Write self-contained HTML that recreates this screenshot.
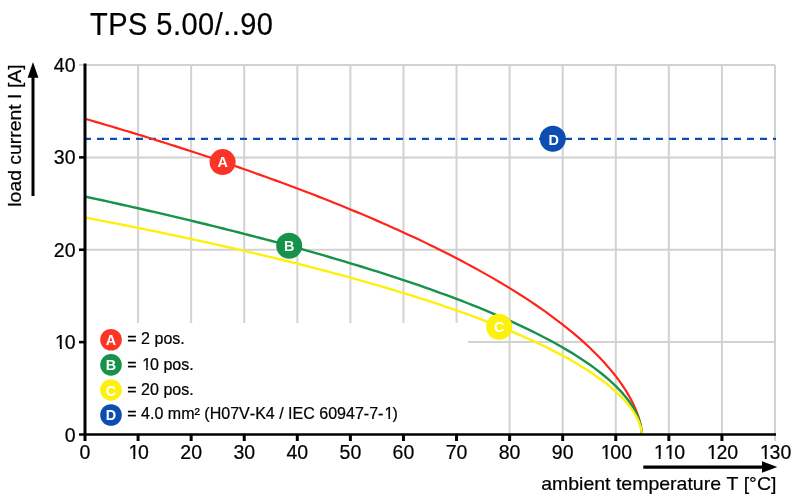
<!DOCTYPE html>
<html><head><meta charset="utf-8"><title>TPS 5.00/..90</title>
<style>
html,body{margin:0;padding:0;background:#fff;}
body{width:800px;height:500px;overflow:hidden;font-family:"Liberation Sans",sans-serif;}
svg{display:block;will-change:transform;}
text{font-kerning:none;}
text:not([fill]){stroke:#000;stroke-width:0.22px;}
</style></head><body>
<svg width="800" height="500" viewBox="0 0 800 500">
<line x1="138.08" y1="65.00" x2="138.08" y2="434.5" stroke="#d2d2d2" stroke-width="2"/>
<line x1="191.15" y1="65.00" x2="191.15" y2="434.5" stroke="#d2d2d2" stroke-width="2"/>
<line x1="244.23" y1="65.00" x2="244.23" y2="434.5" stroke="#d2d2d2" stroke-width="2"/>
<line x1="297.31" y1="65.00" x2="297.31" y2="434.5" stroke="#d2d2d2" stroke-width="2"/>
<line x1="350.38" y1="65.00" x2="350.38" y2="434.5" stroke="#d2d2d2" stroke-width="2"/>
<line x1="403.46" y1="65.00" x2="403.46" y2="434.5" stroke="#d2d2d2" stroke-width="2"/>
<line x1="456.54" y1="65.00" x2="456.54" y2="434.5" stroke="#d2d2d2" stroke-width="2"/>
<line x1="509.62" y1="65.00" x2="509.62" y2="434.5" stroke="#d2d2d2" stroke-width="2"/>
<line x1="562.69" y1="65.00" x2="562.69" y2="434.5" stroke="#d2d2d2" stroke-width="2"/>
<line x1="615.77" y1="65.00" x2="615.77" y2="434.5" stroke="#d2d2d2" stroke-width="2"/>
<line x1="668.85" y1="65.00" x2="668.85" y2="434.5" stroke="#d2d2d2" stroke-width="2"/>
<line x1="721.92" y1="65.00" x2="721.92" y2="434.5" stroke="#d2d2d2" stroke-width="2"/>
<line x1="775.00" y1="65.00" x2="775.00" y2="441" stroke="#d2d2d2" stroke-width="2"/>
<line x1="85.0" y1="342.12" x2="775.00" y2="342.12" stroke="#d2d2d2" stroke-width="2"/>
<line x1="85.0" y1="249.75" x2="775.00" y2="249.75" stroke="#d2d2d2" stroke-width="2"/>
<line x1="85.0" y1="157.38" x2="775.00" y2="157.38" stroke="#d2d2d2" stroke-width="2"/>
<line x1="79" y1="65.00" x2="775.00" y2="65.00" stroke="#d2d2d2" stroke-width="2"/>
<rect x="86.5" y="323" width="381.5" height="110" fill="#fff"/>
<line x1="84" y1="138.90" x2="776" y2="138.90" stroke="#0c4db2" stroke-width="2.4" stroke-dasharray="7 6"/>
<path d="M85.00,118.74 L90.31,120.28 L95.62,121.83 L100.92,123.39 L106.23,124.95 L111.54,126.53 L116.85,128.11 L122.15,129.70 L127.46,131.31 L132.77,132.92 L138.08,134.54 L143.38,136.17 L148.69,137.81 L154.00,139.46 L159.31,141.12 L164.62,142.80 L169.92,144.48 L175.23,146.17 L180.54,147.87 L185.85,149.59 L191.15,151.31 L196.46,153.05 L201.77,154.80 L207.08,156.56 L212.38,158.33 L217.69,160.11 L223.00,161.91 L228.31,163.72 L233.62,165.54 L238.92,167.37 L244.23,169.22 L249.54,171.08 L254.85,172.96 L260.15,174.85 L265.46,176.75 L270.77,178.67 L276.08,180.60 L281.38,182.55 L286.69,184.51 L292.00,186.49 L297.31,188.48 L302.62,190.50 L307.92,192.53 L313.23,194.57 L318.54,196.63 L323.85,198.72 L329.15,200.82 L334.46,202.93 L339.77,205.07 L345.08,207.23 L350.38,209.41 L355.69,211.61 L361.00,213.83 L366.31,216.07 L371.62,218.34 L376.92,220.63 L382.23,222.94 L387.54,225.27 L392.85,227.64 L398.15,230.02 L403.46,232.44 L408.77,234.88 L414.08,237.35 L419.38,239.85 L424.69,242.38 L430.00,244.95 L435.31,247.54 L440.62,250.17 L445.92,252.83 L451.23,255.53 L456.54,258.27 L461.85,261.05 L467.15,263.87 L472.46,266.73 L477.77,269.63 L483.08,272.59 L488.38,275.59 L493.69,278.64 L499.00,281.75 L504.31,284.91 L509.62,288.13 L514.92,291.42 L520.23,294.77 L525.54,298.20 L530.85,301.70 L536.15,305.28 L541.46,308.94 L546.77,312.70 L552.08,316.56 L557.38,320.53 L562.69,324.62 L568.00,328.84 L573.31,333.20 L578.62,337.71 L583.92,342.41 L589.23,347.31 L594.54,352.44 L599.85,357.83 L605.15,363.55 L610.46,369.64 L615.24,375.54 L615.69,376.12 L616.14,376.70 L616.59,377.28 L617.04,377.88 L617.49,378.47 L617.94,379.07 L618.39,379.68 L618.84,380.29 L619.29,380.91 L619.74,381.53 L620.19,382.16 L620.64,382.79 L621.09,383.43 L621.54,384.08 L621.99,384.73 L622.44,385.39 L622.89,386.05 L623.33,386.72 L623.78,387.40 L624.23,388.09 L624.68,388.78 L625.13,389.48 L625.58,390.19 L626.03,390.91 L626.48,391.64 L626.93,392.38 L627.38,393.13 L627.83,393.88 L628.28,394.65 L628.73,395.43 L629.18,396.22 L629.63,397.02 L630.08,397.84 L630.53,398.67 L630.98,399.51 L631.43,400.37 L631.88,401.24 L632.33,402.13 L632.78,403.04 L633.23,403.97 L633.68,404.92 L634.13,405.90 L634.58,406.89 L635.03,407.92 L635.48,408.97 L635.93,410.06 L636.38,411.18 L636.83,412.34 L637.28,413.55 L637.73,414.81 L638.18,416.13 L638.63,417.52 L639.08,419.00 L639.53,420.58 L639.98,422.30 L640.43,424.21 L640.88,426.41 L641.33,429.14 L641.78,434.50" fill="none" stroke="#ff2419" stroke-width="2.2"/>
<path d="M85.00,196.58 L90.31,197.73 L95.62,198.88 L100.92,200.03 L106.23,201.19 L111.54,202.36 L116.85,203.53 L122.15,204.71 L127.46,205.90 L132.77,207.09 L138.08,208.29 L143.38,209.50 L148.69,210.71 L154.00,211.93 L159.31,213.16 L164.62,214.39 L169.92,215.64 L175.23,216.89 L180.54,218.14 L185.85,219.41 L191.15,220.68 L196.46,221.96 L201.77,223.24 L207.08,224.54 L212.38,225.84 L217.69,227.16 L223.00,228.48 L228.31,229.81 L233.62,231.15 L238.92,232.49 L244.23,233.85 L249.54,235.22 L254.85,236.59 L260.15,237.98 L265.46,239.38 L270.77,240.78 L276.08,242.20 L281.38,243.63 L286.69,245.07 L292.00,246.52 L297.31,247.98 L302.62,249.45 L307.92,250.94 L313.23,252.43 L318.54,253.94 L323.85,255.46 L329.15,257.00 L334.46,258.55 L339.77,260.11 L345.08,261.69 L350.38,263.28 L355.69,264.88 L361.00,266.51 L366.31,268.14 L371.62,269.80 L376.92,271.47 L382.23,273.15 L387.54,274.86 L392.85,276.58 L398.15,278.32 L403.46,280.08 L408.77,281.86 L414.08,283.67 L419.38,285.49 L424.69,287.33 L430.00,289.20 L435.31,291.09 L440.62,293.01 L445.92,294.95 L451.23,296.92 L456.54,298.92 L461.85,300.94 L467.15,303.00 L472.46,305.09 L477.77,307.21 L483.08,309.36 L488.38,311.55 L493.69,313.78 L499.00,316.05 L504.31,318.36 L509.62,320.72 L514.92,323.12 L520.23,325.57 L525.54,328.08 L530.85,330.64 L536.15,333.27 L541.46,335.96 L546.77,338.72 L552.08,341.56 L557.38,344.48 L562.69,347.50 L568.00,350.61 L573.31,353.84 L578.62,357.19 L583.92,360.67 L589.23,364.32 L594.54,368.15 L599.85,372.20 L605.15,376.50 L610.46,381.11 L615.24,385.59 L615.69,386.03 L616.14,386.47 L616.59,386.92 L617.04,387.37 L617.49,387.83 L617.94,388.29 L618.39,388.75 L618.84,389.22 L619.29,389.70 L619.74,390.17 L620.19,390.66 L620.64,391.14 L621.09,391.63 L621.54,392.13 L621.99,392.63 L622.44,393.14 L622.89,393.66 L623.33,394.18 L623.78,394.70 L624.23,395.23 L624.68,395.77 L625.13,396.32 L625.58,396.87 L626.03,397.43 L626.48,397.99 L626.93,398.57 L627.38,399.15 L627.83,399.74 L628.28,400.35 L628.73,400.96 L629.18,401.58 L629.63,402.21 L630.08,402.85 L630.53,403.50 L630.98,404.17 L631.43,404.85 L631.88,405.55 L632.33,406.25 L632.78,406.98 L633.23,407.72 L633.68,408.48 L634.13,409.26 L634.58,410.07 L635.03,410.89 L635.48,411.75 L635.93,412.63 L636.38,413.55 L636.83,414.50 L637.28,415.49 L637.73,416.53 L638.18,417.63 L638.63,418.79 L639.08,420.04 L639.53,421.38 L639.98,422.86 L640.43,424.52 L640.88,426.47 L641.33,428.96 L641.78,434.50" fill="none" stroke="#16924a" stroke-width="2.4"/>
<path d="M85.00,217.52 L90.31,218.54 L95.62,219.56 L100.92,220.58 L106.23,221.61 L111.54,222.65 L116.85,223.69 L122.15,224.74 L127.46,225.80 L132.77,226.86 L138.08,227.93 L143.38,229.01 L148.69,230.09 L154.00,231.18 L159.31,232.28 L164.62,233.38 L169.92,234.49 L175.23,235.61 L180.54,236.74 L185.85,237.87 L191.15,239.01 L196.46,240.16 L201.77,241.31 L207.08,242.48 L212.38,243.65 L217.69,244.83 L223.00,246.02 L228.31,247.22 L233.62,248.43 L238.92,249.65 L244.23,250.87 L249.54,252.11 L254.85,253.35 L260.15,254.60 L265.46,255.87 L270.77,257.14 L276.08,258.43 L281.38,259.72 L286.69,261.03 L292.00,262.34 L297.31,263.67 L302.62,265.01 L307.92,266.36 L313.23,267.72 L318.54,269.10 L323.85,270.49 L329.15,271.89 L334.46,273.30 L339.77,274.73 L345.08,276.17 L350.38,277.63 L355.69,279.10 L361.00,280.58 L366.31,282.08 L371.62,283.60 L376.92,285.13 L382.23,286.68 L387.54,288.24 L392.85,289.83 L398.15,291.43 L403.46,293.05 L408.77,294.69 L414.08,296.35 L419.38,298.03 L424.69,299.73 L430.00,301.46 L435.31,303.20 L440.62,304.97 L445.92,306.77 L451.23,308.59 L456.54,310.44 L461.85,312.32 L467.15,314.22 L472.46,316.16 L477.77,318.12 L483.08,320.12 L488.38,322.16 L493.69,324.23 L499.00,326.34 L504.31,328.49 L509.62,330.68 L514.92,332.91 L520.23,335.20 L525.54,337.53 L530.85,339.92 L536.15,342.37 L541.46,344.88 L546.77,347.46 L552.08,350.10 L557.38,352.83 L562.69,355.64 L568.00,358.55 L573.31,361.56 L578.62,364.68 L583.92,367.93 L589.23,371.33 L594.54,374.90 L599.85,378.67 L605.15,382.66 L610.46,386.94 L615.24,391.09 L615.69,391.50 L616.14,391.91 L616.59,392.33 L617.04,392.75 L617.49,393.17 L617.94,393.59 L618.39,394.02 L618.84,394.46 L619.29,394.89 L619.74,395.33 L620.19,395.78 L620.64,396.23 L621.09,396.68 L621.54,397.14 L621.99,397.60 L622.44,398.07 L622.89,398.55 L623.33,399.02 L623.78,399.51 L624.23,400.00 L624.68,400.49 L625.13,400.99 L625.58,401.50 L626.03,402.01 L626.48,402.53 L626.93,403.06 L627.38,403.59 L627.83,404.14 L628.28,404.69 L628.73,405.25 L629.18,405.81 L629.63,406.39 L630.08,406.98 L630.53,407.57 L630.98,408.18 L631.43,408.80 L631.88,409.43 L632.33,410.08 L632.78,410.73 L633.23,411.41 L633.68,412.10 L634.13,412.80 L634.58,413.53 L635.03,414.28 L635.48,415.05 L635.93,415.84 L636.38,416.66 L636.83,417.51 L637.28,418.40 L637.73,419.33 L638.18,420.31 L638.63,421.34 L639.08,422.43 L639.53,423.62 L639.98,424.91 L640.43,426.35 L640.88,428.03 L641.33,430.14 L641.78,434.50" fill="none" stroke="#fdf00c" stroke-width="2.4"/>
<line x1="85" y1="63.5" x2="85" y2="441" stroke="#000" stroke-width="3"/>
<line x1="79" y1="434.5" x2="776" y2="434.5" stroke="#000" stroke-width="2.6"/>
<line x1="79" y1="342.12" x2="85" y2="342.12" stroke="#000" stroke-width="2.6"/>
<line x1="79" y1="249.75" x2="85" y2="249.75" stroke="#000" stroke-width="2.6"/>
<line x1="79" y1="157.38" x2="85" y2="157.38" stroke="#000" stroke-width="2.6"/>
<line x1="138.08" y1="434.5" x2="138.08" y2="441" stroke="#000" stroke-width="3"/>
<line x1="191.15" y1="434.5" x2="191.15" y2="441" stroke="#000" stroke-width="3"/>
<line x1="244.23" y1="434.5" x2="244.23" y2="441" stroke="#000" stroke-width="3"/>
<line x1="297.31" y1="434.5" x2="297.31" y2="441" stroke="#000" stroke-width="3"/>
<line x1="350.38" y1="434.5" x2="350.38" y2="441" stroke="#000" stroke-width="3"/>
<line x1="403.46" y1="434.5" x2="403.46" y2="441" stroke="#000" stroke-width="3"/>
<line x1="456.54" y1="434.5" x2="456.54" y2="441" stroke="#000" stroke-width="3"/>
<line x1="509.62" y1="434.5" x2="509.62" y2="441" stroke="#000" stroke-width="3"/>
<line x1="562.69" y1="434.5" x2="562.69" y2="441" stroke="#000" stroke-width="3"/>
<line x1="615.77" y1="434.5" x2="615.77" y2="441" stroke="#000" stroke-width="3"/>
<line x1="668.85" y1="434.5" x2="668.85" y2="441" stroke="#000" stroke-width="3"/>
<line x1="721.92" y1="434.5" x2="721.92" y2="441" stroke="#000" stroke-width="3"/>
<text x="64.655" y="442.00" font-family="Liberation Sans, sans-serif" font-size="19.5">0</text>
<text x="53.810" y="349.48" font-family="Liberation Sans, sans-serif" font-size="19.5"><tspan dx="1.3">1</tspan><tspan dx="-1.3">0</tspan></text>
<text x="53.810" y="256.95" font-family="Liberation Sans, sans-serif" font-size="19.5">20</text>
<text x="53.810" y="164.43" font-family="Liberation Sans, sans-serif" font-size="19.5">30</text>
<text x="53.810" y="71.90" font-family="Liberation Sans, sans-serif" font-size="19.5">40</text>
<text x="79.578" y="459.1" font-family="Liberation Sans, sans-serif" font-size="19.5">0</text>
<text x="127.232" y="459.1" font-family="Liberation Sans, sans-serif" font-size="19.5"><tspan dx="1.3">1</tspan><tspan dx="-1.3">0</tspan></text>
<text x="180.309" y="459.1" font-family="Liberation Sans, sans-serif" font-size="19.5">20</text>
<text x="233.386" y="459.1" font-family="Liberation Sans, sans-serif" font-size="19.5">30</text>
<text x="286.463" y="459.1" font-family="Liberation Sans, sans-serif" font-size="19.5">40</text>
<text x="339.540" y="459.1" font-family="Liberation Sans, sans-serif" font-size="19.5">50</text>
<text x="392.617" y="459.1" font-family="Liberation Sans, sans-serif" font-size="19.5">60</text>
<text x="445.693" y="459.1" font-family="Liberation Sans, sans-serif" font-size="19.5">70</text>
<text x="498.770" y="459.1" font-family="Liberation Sans, sans-serif" font-size="19.5">80</text>
<text x="551.847" y="459.1" font-family="Liberation Sans, sans-serif" font-size="19.5">90</text>
<text x="599.502" y="459.1" font-family="Liberation Sans, sans-serif" font-size="19.5"><tspan dx="1.3">1</tspan><tspan dx="-1.3">0</tspan>0</text>
<text x="652.579" y="459.1" font-family="Liberation Sans, sans-serif" font-size="19.5"><tspan dx="1.3">1</tspan>1<tspan dx="-1.3">0</tspan></text>
<text x="705.656" y="459.1" font-family="Liberation Sans, sans-serif" font-size="19.5"><tspan dx="1.3">1</tspan><tspan dx="-1.3">2</tspan>0</text>
<text x="758.733" y="459.1" font-family="Liberation Sans, sans-serif" font-size="19.5"><tspan dx="1.3">1</tspan><tspan dx="-1.3">3</tspan>0</text>
<text transform="translate(90,34.8) scale(1,1.09)" font-family="Liberation Sans, sans-serif" font-size="29" textLength="183" lengthAdjust="spacing">TPS 5.00/..90</text>
<text transform="translate(21.1,206.7) rotate(-90) scale(1.043,1)" font-family="Liberation Sans, sans-serif" font-size="18.6">load current I [A]</text>
<line x1="33" y1="196" x2="33" y2="76" stroke="#000" stroke-width="3"/>
<polygon points="33,62 27.6,77.8 38.4,77.8" fill="#000"/>
<text transform="translate(776.4,489.6) scale(1.083,1)" font-family="Liberation Sans, sans-serif" font-size="18" text-anchor="end">ambient temperature T [°C]</text>
<line x1="643.3" y1="467.1" x2="763" y2="467.1" stroke="#000" stroke-width="3.2"/>
<polygon points="777.3,467 762,461.2 762,472.8" fill="#000"/>
<circle cx="111" cy="339.75" r="10.8" fill="#fa3426"/>
<text x="111" y="344.70" font-family="Liberation Sans, sans-serif" font-size="14.4" font-weight="bold" fill="#fff" text-anchor="middle">A</text>
<text x="127.3" y="343.90" font-family="Liberation Sans, sans-serif" font-size="16.05">= 2 pos.</text>
<circle cx="111" cy="364.85" r="10.8" fill="#16924a"/>
<text x="111" y="369.80" font-family="Liberation Sans, sans-serif" font-size="14.4" font-weight="bold" fill="#fff" text-anchor="middle">B</text>
<text x="127.3" y="369.60" font-family="Liberation Sans, sans-serif" font-size="16.05">= <tspan dx="1.07">1</tspan><tspan dx="-1.07">0</tspan> pos.</text>
<circle cx="111" cy="389.95" r="10.8" fill="#fdf00c"/>
<text x="111" y="395.70" font-family="Liberation Sans, sans-serif" font-size="14.4" font-weight="bold" fill="#fff" text-anchor="middle">C</text>
<text x="127.3" y="394.70" font-family="Liberation Sans, sans-serif" font-size="16.05">= 20 pos.</text>
<circle cx="111" cy="415.0" r="10.8" fill="#0c4db2"/>
<text x="111" y="419.95" font-family="Liberation Sans, sans-serif" font-size="14.4" font-weight="bold" fill="#fff" text-anchor="middle">D</text>
<text x="127.3" y="419.40" font-family="Liberation Sans, sans-serif" font-size="16.05">= 4.0 mm² (H07V-K4 / IEC 60947-7-<tspan dx="1.07">1</tspan><tspan dx="-1.07">)</tspan></text>
<circle cx="222.6" cy="162.1" r="13" fill="#fa3426"/>
<text x="222.60" y="167.05" font-family="Liberation Sans, sans-serif" font-size="14.4" font-weight="bold" fill="#fff" text-anchor="middle">A</text>
<circle cx="289.2" cy="245.8" r="13" fill="#16924a"/>
<text x="289.20" y="251.05" font-family="Liberation Sans, sans-serif" font-size="14.4" font-weight="bold" fill="#fff" text-anchor="middle">B</text>
<circle cx="499.2" cy="326.8" r="13" fill="#fdf00c"/>
<text x="499.20" y="332.35" font-family="Liberation Sans, sans-serif" font-size="14.4" font-weight="bold" fill="#fff" text-anchor="middle">C</text>
<circle cx="552.8" cy="138.8" r="13" fill="#0c4db2"/>
<text x="553.60" y="144.50" font-family="Liberation Sans, sans-serif" font-size="14.4" font-weight="bold" fill="#fff" text-anchor="middle">D</text>
<rect x="55.94" y="346.92" width="3.98" height="3.46" fill="#fff"/>
<rect x="61.84" y="346.92" width="3.72" height="3.46" fill="#fff"/>
<rect x="129.36" y="456.54" width="3.98" height="3.46" fill="#fff"/>
<rect x="135.26" y="456.54" width="3.72" height="3.46" fill="#fff"/>
<rect x="601.63" y="456.54" width="3.98" height="3.46" fill="#fff"/>
<rect x="607.53" y="456.54" width="3.72" height="3.46" fill="#fff"/>
<rect x="654.71" y="456.54" width="3.98" height="3.46" fill="#fff"/>
<rect x="660.61" y="456.54" width="3.72" height="3.46" fill="#fff"/>
<rect x="665.57" y="456.54" width="3.98" height="3.46" fill="#fff"/>
<rect x="671.47" y="456.54" width="3.72" height="3.46" fill="#fff"/>
<rect x="707.78" y="456.54" width="3.98" height="3.46" fill="#fff"/>
<rect x="713.68" y="456.54" width="3.72" height="3.46" fill="#fff"/>
<rect x="760.86" y="456.54" width="3.98" height="3.46" fill="#fff"/>
<rect x="766.76" y="456.54" width="3.72" height="3.46" fill="#fff"/>
<rect x="142.77" y="367.30" width="3.36" height="3.20" fill="#fff"/>
<rect x="147.75" y="367.30" width="3.14" height="3.20" fill="#fff"/>
<rect x="385.10" y="417.10" width="3.36" height="3.20" fill="#fff"/>
<rect x="390.08" y="417.10" width="3.14" height="3.20" fill="#fff"/>
</svg>
</body></html>
